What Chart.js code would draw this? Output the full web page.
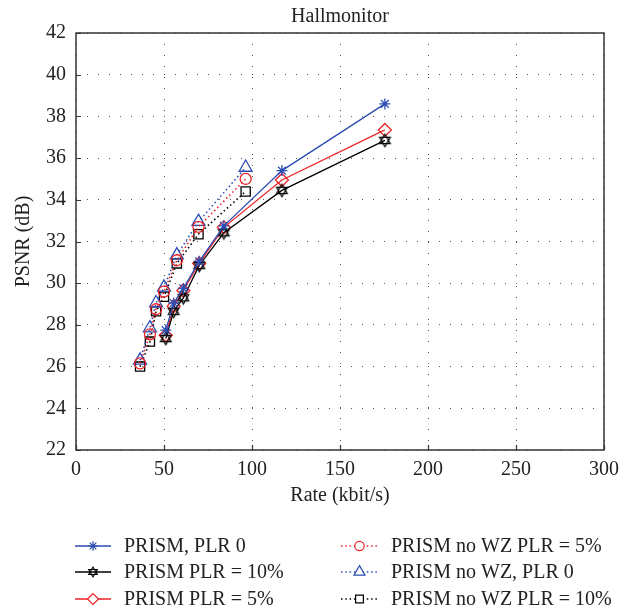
<!DOCTYPE html>
<html>
<head>
<meta charset="utf-8">
<script src="https://cdn.jsdelivr.net/npm/chart.js@4.4.0/dist/chart.umd.min.js"></script>
<style>
 body{margin:0;background:#fff;}
 canvas{display:block;}
</style>
</head>
<body>
<canvas id="chart" width="633" height="609"></canvas>
<script>
/* ---------- DATA ---------- */
const ratePrism = [51, 55.5, 61, 70, 84, 117, 175.5];
const prismPlr0 = [27.75, 29.05, 29.75, 31.05, 32.75, 35.4, 38.6];
const prismPlr10 = [27.35, 28.65, 29.3, 30.85, 32.42, 34.45, 36.85];
const prismPlr5 = [27.5, 28.9, 29.65, 30.95, 32.68, 34.95, 37.35];

const rateNoWz = [36.4, 42, 45.5, 50, 57.3, 69.6, 96.4];
const noWzPlr5 = [26.15, 27.55, 28.75, 29.6, 31.1, 32.7, 35.0];
const noWzPlr0 = [26.3, 27.85, 29.05, 29.8, 31.35, 32.95, 35.55];
const noWzPlr10 = [26.0, 27.2, 28.65, 29.35, 30.95, 32.35, 34.4];

const labels = ["PRISM, PLR 0","PRISM PLR = 10%","PRISM PLR = 5%",
 "PRISM no WZ PLR = 5%","PRISM no WZ, PLR 0","PRISM no WZ PLR = 10%"];
const xTickVals = [0,50,100,150,200,250,300];
const yTickVals = [22,24,26,28,30,32,34,36,38,40,42];

const BLUE="#2b4db3", RED="#ec2327", BLACK="#000";
const FONT="'Liberation Serif', 'Times New Roman', serif";

function pts(xs,ys){ return xs.map((x,i)=>({x:x,y:ys[i]})); }

// star of david marker
function hexagram(r,color,w){
 let c=document.createElement("canvas"), s=Math.ceil(r*2+4);
 c.width=s; c.height=s;
 let g=c.getContext("2d"), m=s/2;
 g.strokeStyle=color; g.lineWidth=w;
 for(let k=0;k<2;k++){
  g.beginPath();
  for(let i=0;i<3;i++){
   let a=-Math.PI/2+k*Math.PI+i*2*Math.PI/3;
   let px=m+r*Math.cos(a), py=m+r*Math.sin(a);
   i?g.lineTo(px,py):g.moveTo(px,py);
  }
  g.closePath(); g.stroke();
 }
 return c;
}
const hexMark=hexagram(6.2,BLACK,1.2);
const hexSmall=hexagram(5,BLACK,1.1);

function ds(label,data,color,style,radius,dotted){
 return {
  label:label, data:data, borderColor:color, backgroundColor:"rgba(0,0,0,0)",
  borderWidth:dotted?1.6:1.3, borderDash:dotted?[1.5,2.8]:[],
  pointStyle:style, pointRadius:radius, pointHoverRadius:radius,
  pointBorderColor:color, pointBackgroundColor:"rgba(0,0,0,0)", pointBorderWidth:1.3,
  tension:0, fill:false
 };
}

/* ---------- DECORATION PLUGIN ---------- */
const legendSlots=[[75,111,546],[75,111,572],[75,111,599],[341,378,546],[341,378,572],[341,378,599]];
const deco={
 id:"deco",
 afterDraw(c){
  let g=c.ctx, a=c.chartArea, xs=c.scales.x, ys=c.scales.y;
  g.save();
  // frame
  g.strokeStyle="#333"; g.lineWidth=1.5; g.setLineDash([]);
  g.strokeRect(a.left,a.top,a.right-a.left,a.bottom-a.top);
  // inward ticks
  g.lineWidth=1.2; g.beginPath();
  xTickVals.forEach(v=>{let p=Math.round(xs.getPixelForValue(v))+0.5; g.moveTo(p,a.bottom); g.lineTo(p,a.bottom-5);});
  yTickVals.forEach(v=>{let p=Math.round(ys.getPixelForValue(v))+0.5; g.moveTo(a.left,p); g.lineTo(a.left+5,p);});
  g.stroke();
  // titles
  g.fillStyle="#222"; g.font="20px "+FONT; g.textAlign="center"; g.textBaseline="middle";
  g.fillText("Hallmonitor",(a.left+a.right)/2,17);
  g.fillText("Rate (kbit/s)",(a.left+a.right)/2,496);
  g.save(); g.translate(24,(a.top+a.bottom)/2); g.rotate(-Math.PI/2);
  g.fillText("PSNR (dB)",0,0); g.restore();
  // legend
  c.data.datasets.forEach((d,i)=>{
   let [x0,x1,y]=legendSlots[i];
   g.strokeStyle=d.borderColor; g.lineWidth=d.borderWidth; g.setLineDash(d.borderDash);
   g.beginPath(); g.moveTo(x0,y); g.lineTo(x1,y); g.stroke();
   g.setLineDash([]);
   g.fillStyle="#fff"; g.lineWidth=1.2;
   let st=d.pointStyle===hexMark?hexSmall:d.pointStyle;
   Chart.helpers.drawPoint(g,{pointStyle:st,radius:d.pointRadius*0.85,rotation:0,borderWidth:1.2},(x0+x1)/2,y);
   g.fillStyle="#222"; g.textAlign="left"; g.textBaseline="middle";
   g.fillText(d.label,x1+13,y+1);
  });
  g.restore();
 }
};

new Chart(document.getElementById("chart"),{
 type:"line",
 data:{datasets:[
  ds(labels[0],pts(ratePrism,prismPlr0),BLUE,"star",5.5,false),
  ds(labels[1],pts(ratePrism,prismPlr10),BLACK,hexMark,6,false),
  ds(labels[2],pts(ratePrism,prismPlr5),RED,"rectRot",6.5,false),
  ds(labels[3],pts(rateNoWz,noWzPlr5),RED,"circle",5.5,true),
  ds(labels[4],pts(rateNoWz,noWzPlr0),BLUE,"triangle",7.5,true),
  ds(labels[5],pts(rateNoWz,noWzPlr10),BLACK,"rect",6.5,true)
 ]},
 options:{
  responsive:false, devicePixelRatio:1, animation:false,
  layout:{padding:{left:0,top:33,right:29,bottom:119}},
  plugins:{legend:{display:false},tooltip:{enabled:false}},
  scales:{
   x:{type:"linear",min:0,max:300,
    afterBuildTicks:s=>{s.ticks=xTickVals.map(v=>({value:v}));},
    afterFit:s=>{s.height=40;},
    grid:{color:"#555",lineWidth:1,drawTicks:false},
    border:{display:false,dash:[1,10]},
    ticks:{padding:8,color:"#222",font:{family:FONT,size:20},maxRotation:0}},
   y:{type:"linear",min:22,max:42,
    afterBuildTicks:s=>{s.ticks=yTickVals.map(v=>({value:v}));},
    afterFit:s=>{s.width=76;},
    grid:{color:"#555",lineWidth:1,drawTicks:false},
    border:{display:false,dash:[1,10]},
    ticks:{padding:10,color:"#222",font:{family:FONT,size:20}}}
  }
 },
 plugins:[deco]
});
</script>
</body>
</html>
